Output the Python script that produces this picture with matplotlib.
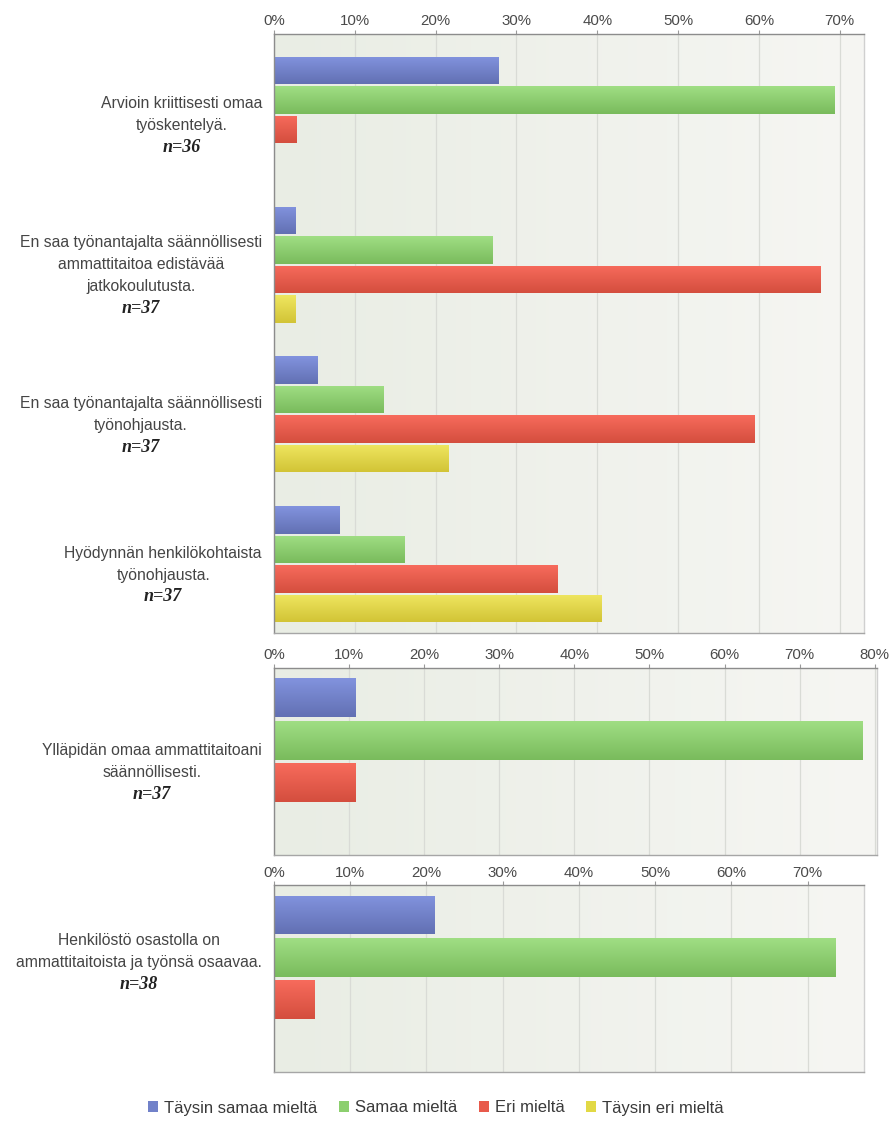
import numpy as np
import matplotlib
matplotlib.use("Agg")
import matplotlib.pyplot as plt
from matplotlib.patches import Patch
from matplotlib.colors import to_rgb
from matplotlib.transforms import ScaledTranslation
from matplotlib.ticker import MultipleLocator, PercentFormatter

plt.rcParams["font.family"] = ["Liberation Sans", "DejaVu Sans"]

# ---- data -------------------------------------------------------------
series_names = ["Täysin samaa mieltä", "Samaa mieltä", "Eri mieltä", "Täysin eri mieltä"]

top_labels = [
    "Arvioin kriittisesti omaa\ntyöskentelyä.",
    "En saa työnantajalta säännöllisesti\nammattitaitoa edistävää\njatkokoulutusta.",
    "En saa työnantajalta säännöllisesti\ntyönohjausta.",
    "Hyödynnän henkilökohtaista\ntyönohjausta.",
]
top_n = [36, 37, 37, 37]
top_full_agree = [27.8, 2.7, 5.4, 8.1]
top_agree = [69.4, 27.0, 13.5, 16.2]
top_disagree = [2.8, 67.6, 59.5, 35.1]
top_full_disagree = [0.0, 2.7, 21.6, 40.5]

mid_labels = ["Ylläpidän omaa ammattitaitoani\nsäännöllisesti."]
mid_n = [37]
mid_full_agree = [10.8]
mid_agree = [78.4]
mid_disagree = [10.8]
mid_full_disagree = [0.0]

bot_labels = ["Henkilöstö osastolla on\nammattitaitoista ja työnsä osaavaa."]
bot_n = [38]
bot_full_agree = [21.1]
bot_agree = [73.7]
bot_disagree = [5.3]
bot_full_disagree = [0.0]

# ---- style ------------------------------------------------------------
base_colors = ["#7181c9", "#8ccf6e", "#e85a4b", "#e2d945"]
top_shade = ["#8293de", "#a0de84", "#f76b5c", "#efe660"]
bot_shade = ["#6270b3", "#79bb5c", "#d44e3e", "#d2c436"]

W, H = 890, 1122
fig = plt.figure(figsize=(W / 100, H / 100), dpi=100)
fig.patch.set_facecolor("white")


def px_axes(x0, y0, x1, y1):
    return fig.add_axes([x0 / W, 1 - y1 / H, (x1 - x0) / W, (y1 - y0) / H])


def shade_patch(ax, patch, c_top, c_bot):
    x0, y0 = patch.get_x(), patch.get_y()
    w, h = patch.get_width(), patch.get_height()
    if w <= 0:
        return
    t = np.linspace(0, 1, 64)[:, None]
    a, b = np.array(to_rgb(c_top)), np.array(to_rgb(c_bot))
    grad = (a[None, :] * (1 - t) + b[None, :] * t)[:, None, :]
    im = ax.imshow(grad, extent=(x0, x0 + w, y0 + h, y0), origin="upper",
                   aspect="auto", interpolation="bilinear", zorder=2.1)
    im.set_clip_path(patch)


def panel(ax, labels, ns, values, xmax, slot, bar_h, ylim, tick_pad, label_shift=0.0):
    # soft horizontal background wash
    bg = np.linspace(0, 1, 128)[None, :, None]
    c0, c1 = np.array(to_rgb("#e9ede4")), np.array(to_rgb("#f6f6f3"))
    ax.imshow(c0 * (1 - bg) + c1 * bg, extent=(0, 1, 0, 1), transform=ax.transAxes,
              aspect="auto", zorder=0, interpolation="bilinear")

    pos = np.arange(len(labels))
    offsets = (np.arange(4) - 1.5) * slot
    for i, vals in enumerate(values):
        bars = ax.barh(pos + offsets[i], vals, height=bar_h, color=base_colors[i],
                       zorder=2, linewidth=0)
        for p in bars:
            shade_patch(ax, p, top_shade[i], bot_shade[i])

    ax.set_xlim(0, xmax)
    ax.set_ylim(*ylim)
    ax.xaxis.set_major_locator(MultipleLocator(10))
    ax.xaxis.set_major_formatter(PercentFormatter(decimals=0))
    ax.xaxis.tick_top()
    ax.tick_params(axis="x", top=True, bottom=False, length=3, width=0.8,
                   color="#9a9a9a", labelsize=10.8, labelcolor="#4a4a4a", pad=tick_pad)
    ax.set_yticks([])
    ax.set_axisbelow(True)
    ax.grid(axis="x", color="#d9dbd6", linewidth=0.9, zorder=0.5)
    for side, col in [("left", "#8c8c8c"), ("top", "#8c8c8c"),
                      ("bottom", "#a6a6a6"), ("right", "#d0d0d0")]:
        ax.spines[side].set_color(col)
        ax.spines[side].set_linewidth(1.0)

    tr = ax.get_yaxis_transform() + ScaledTranslation(-12 / 100, label_shift / 100,
                                                      fig.dpi_scale_trans)
    for y, lab, n in zip(pos, labels, ns):
        t = ax.text(0, y, lab, transform=tr, ha="right", va="center",
                    multialignment="center", fontsize=11.3, color="#454545",
                    linespacing=1.6)
        ax.annotate(f"n={n}", xy=(0.5, 0), xycoords=t, xytext=(0, -4),
                    textcoords="offset points", ha="center", va="top",
                    fontsize=13, fontweight="bold", fontstyle="italic",
                    family=["Liberation Serif", "DejaVu Serif"], color="#222222")


ax1 = px_axes(274, 34, 864, 633)
panel(ax1, top_labels, top_n,
      [top_full_agree, top_agree, top_disagree, top_full_disagree],
      xmax=73.0, slot=0.197, bar_h=0.183, ylim=(3.46, -0.54), tick_pad=1.0)

ax2 = px_axes(274, 668, 877, 855)
panel(ax2, mid_labels, mid_n,
      [mid_full_agree, mid_agree, mid_disagree, mid_full_disagree],
      xmax=80.3, slot=0.228, bar_h=0.208, ylim=(0.5, -0.5), tick_pad=1.5)

ax3 = px_axes(274, 885, 864, 1072)
panel(ax3, bot_labels, bot_n,
      [bot_full_agree, bot_agree, bot_disagree, bot_full_disagree],
      xmax=77.4, slot=0.226, bar_h=0.205, ylim=(0.5, -0.5), tick_pad=0.5,
      label_shift=27)

handles = [Patch(facecolor=c, edgecolor="none") for c in base_colors]
fig.legend(handles, series_names, loc="center", bbox_to_anchor=(436 / W, 1 - 1108 / H),
           ncol=4, frameon=False, fontsize=12, handlelength=0.6, handleheight=0.6,
           handletextpad=0.35, columnspacing=1.3, labelcolor="#3a3a3a")

fig.savefig("out.png", dpi=100, facecolor="white")
